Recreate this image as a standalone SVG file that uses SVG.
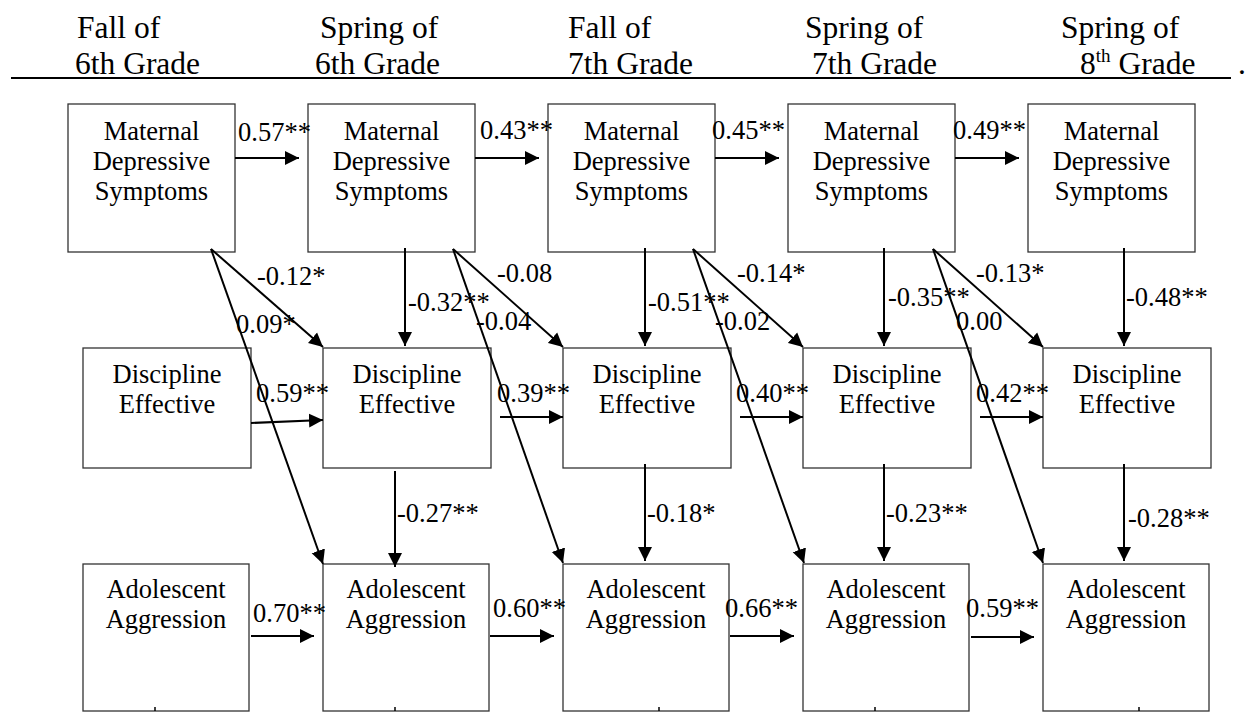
<svg xmlns="http://www.w3.org/2000/svg" width="1248" height="712" viewBox="0 0 1248 712" font-family="'Liberation Serif', 'Times New Roman', serif">
<defs>
<marker id="ah" markerUnits="userSpaceOnUse" markerWidth="15" markerHeight="15" refX="14" refY="7" orient="auto" viewBox="0 0 15 14">
<path d="M0,0 L14,7 L0,14 z" fill="#000"/>
</marker>
</defs>
<style>
text{font-family:'Liberation Serif','Times New Roman',serif}
.box{fill:#fff;stroke:#333;stroke-width:1.3}
.t{font-size:26.5px;fill:#000}
.c{text-anchor:middle}
.h{font-size:31.5px;fill:#000}
.ln{stroke:#000;stroke-width:2;fill:none;marker-end:url(#ah)}
.tick{stroke:#000;stroke-width:1.5}
</style>
<rect width="1248" height="712" fill="#fff"/>
<g id="header">
<text class="h" x="77" y="38">Fall of</text>
<text class="h" x="75" y="74">6th Grade</text>
<text class="h" x="320" y="38">Spring of</text>
<text class="h" x="315" y="74">6th Grade</text>
<text class="h" x="568" y="38">Fall of</text>
<text class="h" x="568" y="74">7th Grade</text>
<text class="h" x="805" y="38">Spring of</text>
<text class="h" x="812" y="74">7th Grade</text>
<text class="h" x="1061" y="38">Spring of</text>
<text class="h" x="1080" y="74">8<tspan font-size="19" dy="-12">th</tspan><tspan dy="12"> Grade</tspan></text>
<text class="h" x="1238" y="74">.</text>
<line x1="11" y1="78" x2="1231" y2="78" stroke="#000" stroke-width="2"/>
</g>
<g id="m1"><rect class="box" x="68" y="104" width="167" height="148"/><text class="t c" x="151.5" y="140">Maternal</text><text class="t c" x="151.5" y="170">Depressive</text><text class="t c" x="151.5" y="200">Symptoms</text></g>
<g id="m2"><rect class="box" x="308" y="104" width="167" height="148"/><text class="t c" x="391.5" y="140">Maternal</text><text class="t c" x="391.5" y="170">Depressive</text><text class="t c" x="391.5" y="200">Symptoms</text></g>
<g id="m3"><rect class="box" x="548" y="104" width="167" height="148"/><text class="t c" x="631.5" y="140">Maternal</text><text class="t c" x="631.5" y="170">Depressive</text><text class="t c" x="631.5" y="200">Symptoms</text></g>
<g id="m4"><rect class="box" x="788" y="104" width="167" height="148"/><text class="t c" x="871.5" y="140">Maternal</text><text class="t c" x="871.5" y="170">Depressive</text><text class="t c" x="871.5" y="200">Symptoms</text></g>
<g id="m5"><rect class="box" x="1028" y="104" width="167" height="148"/><text class="t c" x="1111.5" y="140">Maternal</text><text class="t c" x="1111.5" y="170">Depressive</text><text class="t c" x="1111.5" y="200">Symptoms</text></g>
<g id="d1"><rect class="box" x="83" y="348" width="168" height="120"/><text class="t c" x="167" y="383">Discipline</text><text class="t c" x="167" y="413">Effective</text></g>
<g id="d2"><rect class="box" x="323" y="348" width="168" height="120"/><text class="t c" x="407" y="383">Discipline</text><text class="t c" x="407" y="413">Effective</text></g>
<g id="d3"><rect class="box" x="563" y="348" width="168" height="120"/><text class="t c" x="647" y="383">Discipline</text><text class="t c" x="647" y="413">Effective</text></g>
<g id="d4"><rect class="box" x="803" y="348" width="168" height="120"/><text class="t c" x="887" y="383">Discipline</text><text class="t c" x="887" y="413">Effective</text></g>
<g id="d5"><rect class="box" x="1043" y="348" width="168" height="120"/><text class="t c" x="1127" y="383">Discipline</text><text class="t c" x="1127" y="413">Effective</text></g>
<g id="a1"><rect class="box" x="83" y="564" width="166" height="147"/><text class="t c" x="166" y="598">Adolescent</text><text class="t c" x="166" y="628">Aggression</text></g>
<g id="a2"><rect class="box" x="323" y="564" width="166" height="147"/><text class="t c" x="406" y="598">Adolescent</text><text class="t c" x="406" y="628">Aggression</text></g>
<g id="a3"><rect class="box" x="563" y="564" width="166" height="147"/><text class="t c" x="646" y="598">Adolescent</text><text class="t c" x="646" y="628">Aggression</text></g>
<g id="a4"><rect class="box" x="803" y="564" width="166" height="147"/><text class="t c" x="886" y="598">Adolescent</text><text class="t c" x="886" y="628">Aggression</text></g>
<g id="a5"><rect class="box" x="1043" y="564" width="166" height="147"/><text class="t c" x="1126" y="598">Adolescent</text><text class="t c" x="1126" y="628">Aggression</text></g>
<g id="connectors">
<path class="ln" d="M235,158 H299"/>
<path class="ln" d="M475,158 H539"/>
<path class="ln" d="M715,158 H779"/>
<path class="ln" d="M955,158 H1019"/>
<path class="ln" d="M251,423 L323,420"/>
<path class="ln" d="M500,417 H563"/>
<path class="ln" d="M740,417 H803"/>
<path class="ln" d="M980,417 H1043"/>
<path class="ln" d="M251,636 H314"/>
<path class="ln" d="M490,636 H554"/>
<path class="ln" d="M730,636 H794"/>
<path class="ln" d="M971,637 H1034"/>
<path class="ln" d="M405,248 V346"/>
<path class="ln" d="M645,248 V346"/>
<path class="ln" d="M884,248 V346"/>
<path class="ln" d="M1124,248 V346"/>
<path class="ln" d="M395,471 V567"/>
<path class="ln" d="M645,464 V561"/>
<path class="ln" d="M884,464 V561"/>
<path class="ln" d="M1124,464 V561"/>
<path class="ln" d="M211,249 L323,347"/>
<path class="ln" d="M211,249 L323,564"/>
<path class="ln" d="M453,249 L563,347"/>
<path class="ln" d="M453,249 L563,563"/>
<path class="ln" d="M693,249 L803,347"/>
<path class="ln" d="M693,249 L804,563"/>
<path class="ln" d="M933,249 L1043,347"/>
<path class="ln" d="M933,249 L1043,563"/>
<line class="tick" x1="155" y1="707" x2="155" y2="711"/>
<line class="tick" x1="395" y1="707" x2="395" y2="711"/>
<line class="tick" x1="659" y1="707" x2="659" y2="711"/>
<line class="tick" x1="875" y1="707" x2="875" y2="711"/>
<line class="tick" x1="1139" y1="707" x2="1139" y2="711"/>
</g>
<g id="labels">
<text class="t" x="238" y="141">0.57**</text>
<text class="t" x="480" y="139">0.43**</text>
<text class="t" x="712" y="139">0.45**</text>
<text class="t" x="953" y="139">0.49**</text>
<text class="t" x="257" y="285">-0.12*</text>
<text class="t" x="497" y="282">-0.08</text>
<text class="t" x="737" y="282">-0.14*</text>
<text class="t" x="976" y="282">-0.13*</text>
<text class="t" x="408" y="311">-0.32**</text>
<text class="t" x="648" y="311">-0.51**</text>
<text class="t" x="888" y="306">-0.35**</text>
<text class="t" x="1126" y="306">-0.48**</text>
<text class="t" x="236" y="333">0.09*</text>
<text class="t" x="476" y="330">-0.04</text>
<text class="t" x="715" y="330">-0.02</text>
<text class="t" x="956" y="330">0.00</text>
<text class="t" x="256" y="402">0.59**</text>
<text class="t" x="497" y="402">0.39**</text>
<text class="t" x="736" y="402">0.40**</text>
<text class="t" x="976" y="402">0.42**</text>
<text class="t" x="397" y="522">-0.27**</text>
<text class="t" x="647" y="522">-0.18*</text>
<text class="t" x="886" y="522">-0.23**</text>
<text class="t" x="1128" y="527">-0.28**</text>
<text class="t" x="253" y="622">0.70**</text>
<text class="t" x="493" y="617">0.60**</text>
<text class="t" x="725" y="617">0.66**</text>
<text class="t" x="966" y="617">0.59**</text>
</g>
</svg>
